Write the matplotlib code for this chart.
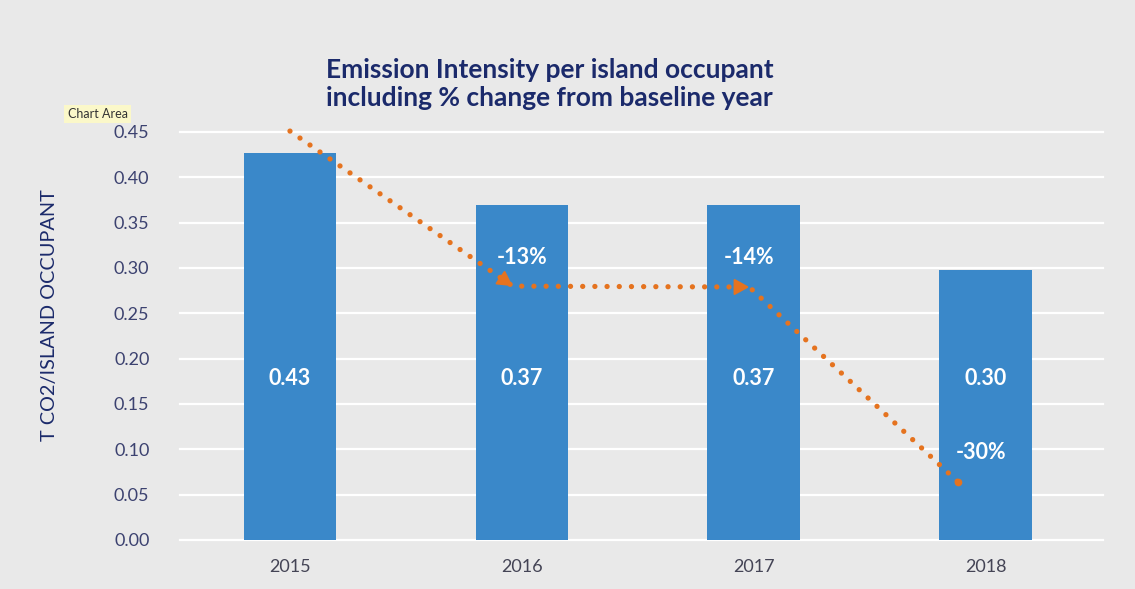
import matplotlib
matplotlib.use("Agg")
import matplotlib.pyplot as plt

# data
years = ["2015", "2016", "2017", "2018"]
intensity = [0.427, 0.369, 0.369, 0.298]
pct_labels = ["", "-13%", "-14%", "-30%"]
pct_x = [0, 1.0, 1.98, 2.98]
pct_y = [0, 0.312, 0.312, 0.096]

# dotted trend arrow (x in bar index units, y in t CO2)
trend_x = [0.0, 0.96, 1.98, 2.88]
trend_y = [0.451, 0.280, 0.279, 0.064]

bg = "#e9e9e9"
navy = "#1b2a6b"
blue = "#3a88c9"
orange = "#e5731f"

plt.rcParams["font.family"] = ["Lato", "DejaVu Sans"]

fig = plt.figure(figsize=(11.35, 5.89), dpi=100, facecolor=bg)
ax = fig.add_axes([0.1586, 0.0832, 0.8132, 0.6927])
ax.set_facecolor(bg)

x = list(range(len(years)))
ax.bar(x, intensity, width=0.4, color=blue, zorder=2)

ax.set_xlim(-0.474, 3.505)
ax.set_ylim(0, 0.45)
ax.set_yticks([i * 0.05 for i in range(10)])
ax.set_yticklabels([f"{i * 0.05:.2f}" for i in range(10)])
for yt in ax.get_yticks():
    ax.axhline(yt, color="white", lw=1.6, zorder=1, clip_on=False)

ax.set_xticks(x)
ax.set_xticklabels(years)
ax.tick_params(axis="both", length=0, labelsize=13, colors="#3c4270")
ax.tick_params(axis="y", pad=22)
ax.tick_params(axis="x", pad=14, colors="#444455")
for s in ax.spines.values():
    s.set_visible(False)

ax.set_ylabel("T CO2/ISLAND OCCUPANT", fontsize=14.3, color=navy)
ax.yaxis.set_label_coords(-0.132, 0.551)

# value labels inside bars
for xi, v in zip(x, intensity):
    ax.text(xi, 0.178, f"{v:.2f}", color="white", fontsize=15.5, fontweight="bold",
            ha="center", va="center", zorder=4)

# dotted trend line with arrowheads
ax.plot(trend_x, trend_y, color=orange, lw=3.8, ls=(0, (0.01, 2.3)),
        dash_capstyle="round", zorder=3, clip_on=False)
ax.plot(trend_x[-1], trend_y[-1], "o", color=orange, ms=4.5, zorder=3)
for i in [0, 1]:
    x0, y0 = trend_x[i], trend_y[i]
    x1, y1 = trend_x[i + 1], trend_y[i + 1]
    ax.annotate("", xy=(x1, y1), xytext=(x1 - (x1 - x0) * 0.06, y1 - (y1 - y0) * 0.06),
                arrowprops=dict(arrowstyle="-|>,head_length=0.9,head_width=0.5",
                                color=orange, lw=1.5, shrinkA=0, shrinkB=0),
                zorder=3)

# percent change labels
for px, py, lab in zip(pct_x, pct_y, pct_labels):
    if lab:
        ax.text(px, py, lab, color="white", fontsize=15.5, fontweight="bold",
                ha="center", va="center", zorder=4)

fig.text(0.484, 0.858, "Emission Intensity per island occupant\nincluding % change from baseline year",
         ha="center", va="center", fontsize=19, fontweight="bold", color=navy,
         linespacing=1.2)

fig.text(0.0595, 0.806, "Chart Area", fontsize=9, color="#333333", ha="left", va="center",
         bbox=dict(boxstyle="square,pad=0.25", fc="#fbf8c9", ec="none"))

fig.savefig("out.png", dpi=100, facecolor=bg)
